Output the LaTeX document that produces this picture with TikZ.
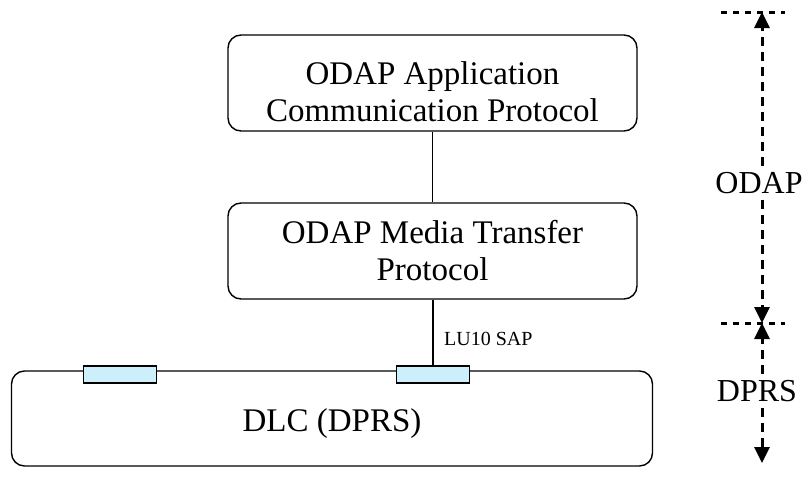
\documentclass[tikz,border=0pt]{standalone}
\usepackage{fontspec}
\setmainfont{Liberation Serif}
\usetikzlibrary{arrows.meta}
\begin{document}
\begin{tikzpicture}[x=1pt,y=-1pt,
  layer/.style={draw, line width=1.4pt, rounded corners=13pt, minimum width=409pt, minimum height=96pt, align=center, font=\fontsize{33}{37}\selectfont, inner sep=0pt},
  dlcbox/.style={draw, line width=1.4pt, rounded corners=13pt, minimum width=641pt, minimum height=95pt, inner sep=0pt},
  sapbox/.style={draw, line width=1.4pt, fill=cyan!20, minimum width=73pt, minimum height=17pt, inner sep=0pt},
  conn/.style={line width=1.4pt},
  txt/.style={align=center, font=\fontsize{33}{37}\selectfont, inner sep=0pt},
  dim/.style={line width=3pt, dash pattern=on 9pt off 6pt, -{Triangle[length=16pt,width=15pt]}},
  dimline/.style={line width=3pt, dash pattern=on 6pt off 6pt},
  side/.style={font=\fontsize{32}{36}\selectfont, inner sep=6pt}
]
\useasboundingbox (0,0) rectangle (809,493);
\node[layer] (app) at (432.5,83) {};
\node[txt] (apptext) at (432.5,92) {ODAP Application\\Communication Protocol};
\node[layer] (mtp) at (432.5,251) {ODAP Media Transfer\\Protocol};
\node[dlcbox] (dlc) at (332,418.5) {};
\node[txt] (dlctext) at (332,424) {DLC (DPRS)};
\node[sapbox] (sap1) at (120,374.5) {};
\node[sapbox] (sap2) at (433,374.5) {};
\draw[conn] (app.south) -- (mtp.north);
\draw[conn] (mtp.south -| sap2.north) -- (sap2.north);
\node[anchor=west, font=\fontsize{20}{24}\selectfont, inner sep=0pt] (lu) at (444,339) {LU10 SAP};
% dimension
\coordinate (top) at (762,12);
\coordinate (mid) at (762,323);
\coordinate (bot) at (762,463);
\coordinate (tl) at (721,12);
\coordinate (tr) at (785,12);
\coordinate (ml) at (721,323);
\coordinate (mr) at (785,323);
\node[side] (odap) at (759,183) {ODAP};
\node[side] (dprs) at (757,391) {DPRS};
\draw[dimline] (tl) -- (tr);
\draw[dimline] (ml) -- (mr);
\draw[dim] (odap.north -| top) -- (top);
\draw[dim] (odap.south -| top) -- (mid);
\draw[dim] (dprs.north -| top) -- (mid);
\draw[dim] (dprs.south -| top) -- (bot);
\end{tikzpicture}
\end{document}
